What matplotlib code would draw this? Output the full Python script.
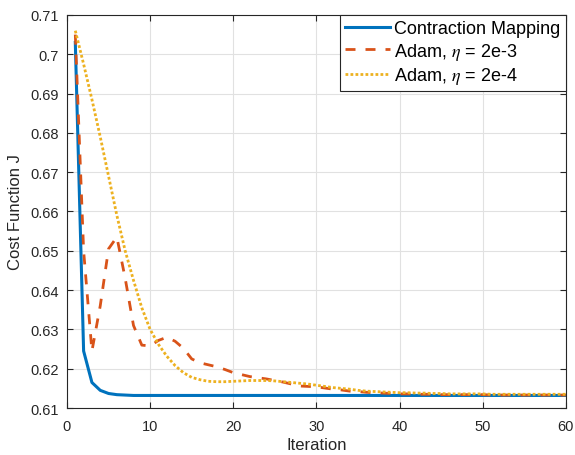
import numpy as np
import matplotlib
matplotlib.use('Agg')
import matplotlib.pyplot as plt

plt.rcParams['font.family'] = ['Liberation Sans', 'DejaVu Sans']
plt.rcParams['mathtext.fontset'] = 'stix'

# data (iterations 1..60)
iterations = np.arange(1, 61)

contraction = [0.703, 0.6245, 0.6165, 0.6145, 0.6137, 0.6134, 0.6133, 0.6132, 0.6132, 0.6132,
               0.6132, 0.6132, 0.6132, 0.6132, 0.6132, 0.6132, 0.6132, 0.6132, 0.6132, 0.6132,
               0.6132, 0.6132, 0.6132, 0.6132, 0.6132, 0.6132, 0.6132, 0.6132, 0.6132, 0.6132,
               0.6132, 0.6132, 0.6132, 0.6132, 0.6132, 0.6132, 0.6132, 0.6132, 0.6132, 0.6132,
               0.6132, 0.6132, 0.6132, 0.6132, 0.6132, 0.6132, 0.6132, 0.6132, 0.6132, 0.6132,
               0.6132, 0.6132, 0.6132, 0.6132, 0.6132, 0.6132, 0.6132, 0.6132, 0.6132, 0.6132]

adam_2e3 = [0.705, 0.650, 0.6245, 0.636, 0.6505, 0.6535, 0.643, 0.631, 0.626, 0.6258,
            0.6272, 0.628, 0.627, 0.6252, 0.6225, 0.6215, 0.621, 0.6205, 0.6198, 0.619,
            0.6185, 0.618, 0.6177, 0.6174, 0.617, 0.6166, 0.6161, 0.6156, 0.6155, 0.6154,
            0.6151, 0.6148, 0.6146, 0.6143, 0.6142, 0.614, 0.6139, 0.6138, 0.6137, 0.6136,
            0.6136, 0.6135, 0.6135, 0.6135, 0.6134, 0.6134, 0.6134, 0.6134, 0.6134, 0.6134,
            0.6133, 0.6133, 0.6133, 0.6133, 0.6133, 0.6133, 0.6133, 0.6133, 0.6133, 0.6133]

adam_2e4 = [0.706, 0.6975, 0.6885, 0.679, 0.669, 0.659, 0.650, 0.6425, 0.6355, 0.630,
            0.6262, 0.6232, 0.6208, 0.619, 0.6178, 0.6172, 0.6168, 0.6167, 0.6167, 0.6168,
            0.6169, 0.617, 0.617, 0.617, 0.6169, 0.6167, 0.6165, 0.6163, 0.6161, 0.6158,
            0.6155, 0.6152, 0.615, 0.6148, 0.6145, 0.6143, 0.6142, 0.6141, 0.614, 0.6139,
            0.6139, 0.6138, 0.6138, 0.6137, 0.6137, 0.6136, 0.6136, 0.6136, 0.6136, 0.6136,
            0.6135, 0.6135, 0.6135, 0.6135, 0.6135, 0.6135, 0.6135, 0.6135, 0.6135, 0.6135]

x_ticks = [0, 10, 20, 30, 40, 50, 60]
y_ticks = [0.61, 0.62, 0.63, 0.64, 0.65, 0.66, 0.67, 0.68, 0.69, 0.70, 0.71]
y_tick_labels = ['0.61', '0.62', '0.63', '0.64', '0.65', '0.66', '0.67', '0.68', '0.69', '0.7', '0.71']

fig = plt.figure(figsize=(5.75, 4.56), dpi=100)
ax = fig.add_axes([0.1165, 0.103, 0.8675, 0.862])

ax.plot(iterations, contraction, color='#0072BD', linewidth=2.2, label='Contraction Mapping')
ax.plot(iterations, adam_2e3, color='#D95319', linewidth=2, linestyle=(0, (3.6, 3.6)), label=r'Adam, $\eta$ = 2e-3')
ax.plot(iterations, adam_2e4, color='#EDB120', linewidth=2, linestyle=(0, (1, 0.8)), label=r'Adam, $\eta$ = 2e-4')

ax.set_xlim(0, 60)
ax.set_ylim(0.61, 0.71)
ax.set_xticks(x_ticks)
ax.set_yticks(y_ticks)
ax.set_yticklabels(y_tick_labels)
ax.grid(True, color='#e1e1e1', linewidth=0.8)
ax.set_axisbelow(True)

for s in ax.spines.values():
    s.set_color('#262626')
    s.set_linewidth(0.8)
ax.tick_params(axis='both', direction='in', top=True, right=True, labelsize=10.5,
               colors='#262626', length=4, width=0.8)
ax.tick_params(axis='x', pad=8)
ax.tick_params(axis='y', pad=6)

ax.set_xlabel('Iteration', fontsize=12, color='#262626', labelpad=3)
ax.set_ylabel('Cost Function J', fontsize=12, color='#262626', labelpad=5)

leg = ax.legend(loc='upper right', fontsize=13, frameon=True, fancybox=False,
                borderaxespad=0, handlelength=2.5, handletextpad=0.25,
                borderpad=0.28, labelspacing=0.2)
leg.get_frame().set_edgecolor('#262626')
leg.get_frame().set_linewidth(0.8)
leg.get_frame().set_alpha(1)

fig.savefig('out.png', dpi=100)
